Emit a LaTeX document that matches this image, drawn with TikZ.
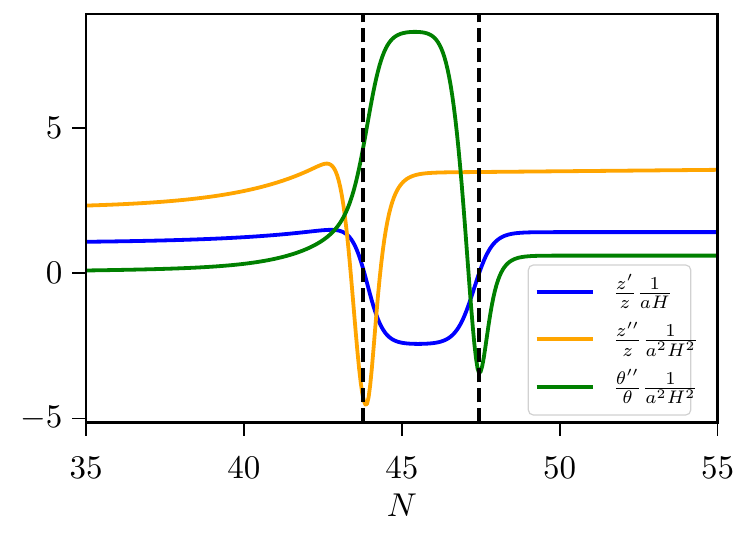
\documentclass[tikz,border=0pt]{standalone}
\usepackage{fix-cm}

\definecolor{mplblue}{RGB}{0,0,255}
\definecolor{mplorange}{RGB}{255,165,0}
\definecolor{mplgreen}{RGB}{0,128,0}

\tikzset{
  frame/.style={line width=1.35pt},
  tickmark/.style={line width=0.8pt},
  curve/.style={line width=1.9pt, line join=round},
  cut/.style={line width=2pt, dash pattern=on 7pt off 3pt},
  ticklabel/.style={inner sep=0pt, scale=1.65},
  legendbox/.style={draw=black!18, fill=white, line width=0.6pt, rounded corners=2.5pt},
  legendlabel/.style={anchor=west, inner sep=0pt, scale=1.3},
  declare function={
    lgs(\x)=1/(1+exp(-max(-9,min(9,\x))));
    sch(\x)=1/cosh(max(-9,min(9,\x)));
    gss(\x)=exp(-min(9,(\x)*(\x)));
    pk(\x)=exp(-min(9,exp(1.7*ln(max(0.01,abs(\x))))));
    zone(\x)=(1.05+0.53*exp((\x-43)/3))*(1-lgs((\x-43.9)/0.25))
             -2.45*(lgs((\x-43.9)/0.25)-lgs((\x-47.29)/0.286))
             +1.42*lgs((\x-47.29)/0.286);
    zbase(\x)=2.25+1.54*exp((\x-42.5)/2.6);
    ztwo(\x)=\x<43.87 ? zbase(\x)*(1-gss((43.87-\x)/0.58))-4.54*gss((43.87-\x)/0.58)
             : (3.47+0.01*(\x-45))-(8.01+0.01*(\x-45))*sch((\x-43.87)/0.3);
    tbase(\x)=0.09+0.012*(\x-35)+1.3*exp(min(5,(\x-43)/1.5));
    trise(\x)=tbase(\x)*(1-lgs((\x-43.97)/0.27))+8.34*lgs((\x-43.97)/0.27);
    ttwo(\x)=\x<47.45 ? trise(\x)-(trise(\x)+3.45)*pk((47.45-\x)/0.63)
             : 0.61-4.06*sch((\x-47.45)/0.265);
  }
}

\begin{document}
\begin{tikzpicture}[x=15.79pt, y=14.5pt]

        \useasboundingbox (32.277,-9.093) rectangle (55.93,9.424);

        % corners of the axes
        \coordinate (ll) at (35,-5.14);
        \coordinate (ur) at (55,8.94);

        % curves
        \draw[curve, mplblue] plot[domain=35:55, samples=401, variable=\n] ({\n},{zone(\n)});
        \draw[curve, mplorange] plot[domain=35:55, samples=401, variable=\n] ({\n},{ztwo(\n)});
        \draw[curve, mplgreen] plot[domain=35:55, samples=401, variable=\n] ({\n},{ttwo(\n)});

        % the two dashed lines
        \coordinate (c1b) at (43.78,-5.14);
        \coordinate (c1t) at (43.78,8.94);
        \coordinate (c2b) at (47.44,-5.14);
        \coordinate (c2t) at (47.44,8.94);
        \draw[cut] (c1b) -- (c1t);
        \draw[cut] (c2b) -- (c2t);

        % axes
        \draw[frame] (ll) rectangle (ur);

        \foreach \n in {35,40,45,50,55} {
          \draw[tickmark] (\n,-5.14) -- ++(0,-7pt);
          \node[ticklabel] (x\n) at (\n,-6.71) {$\n$};
        }
        \foreach \v/\t in {-5/-5,0/0,5/5} {
          \draw[tickmark] (35,\v) -- ++(-7pt,0);
          \node[ticklabel, anchor=east] (y\t) at (34.27,\v) {$\t$};
        }
        \node[ticklabel] (xlabel) at (45,-7.99) {$N$};

        % legend
        \draw[legendbox] (49.006,-4.886) rectangle (54.148,0.286);

        \coordinate (l1a) at (49.272,-0.634);
        \coordinate (l1b) at (51.064,-0.634);
        \coordinate (l2a) at (49.272,-2.266);
        \coordinate (l2b) at (51.064,-2.266);
        \coordinate (l3a) at (49.272,-3.910);
        \coordinate (l3b) at (51.064,-3.910);
        \draw[curve, mplblue] (l1a) -- (l1b);
        \draw[curve, mplorange] (l2a) -- (l2b);
        \draw[curve, mplgreen] (l3a) -- (l3b);
        \node[legendlabel] (n1) at (51.666,-0.634) {$\frac{z'}{z}\frac{1}{aH}$};
        \node[legendlabel] (n2) at (51.666,-2.266) {$\frac{z''}{z}\frac{1}{a^2H^2}$};
        \node[legendlabel] (n3) at (51.666,-3.910) {$\frac{\theta''}{\theta}\frac{1}{a^2H^2}$};

      \end{tikzpicture}
\end{document}
